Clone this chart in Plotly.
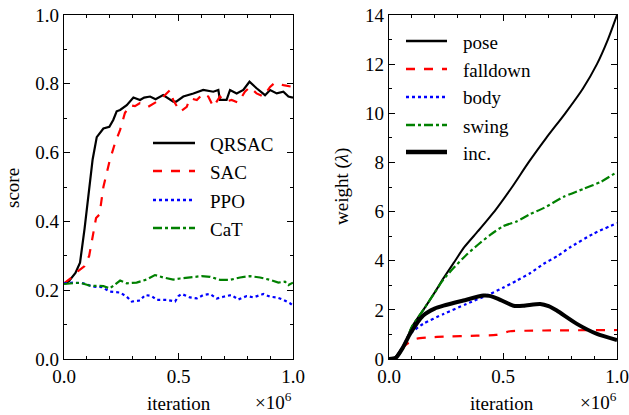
import plotly.graph_objects as go

# ---------- left panel data (iteration in units of 1e6) ----------
qrsac_x = [0.0, 0.02, 0.05, 0.07, 0.09, 0.11, 0.125, 0.143, 0.16, 0.172, 0.198, 0.215, 0.23, 0.245, 0.274,
           0.29, 0.303, 0.332, 0.35, 0.376, 0.40, 0.433, 0.45, 0.477, 0.49, 0.521, 0.565, 0.608, 0.652,
           0.674, 0.681, 0.71, 0.725, 0.754, 0.783, 0.81, 0.841, 0.878, 0.90, 0.929, 0.958, 0.98, 1.0]
qrsac_y = [0.22, 0.225, 0.25, 0.28, 0.38, 0.50, 0.58, 0.645, 0.66, 0.67, 0.675, 0.695, 0.72, 0.724, 0.738,
           0.75, 0.76, 0.753, 0.76, 0.763, 0.755, 0.767, 0.76, 0.748, 0.748, 0.763, 0.772, 0.782, 0.777,
           0.782, 0.753, 0.753, 0.782, 0.772, 0.782, 0.806, 0.787, 0.767, 0.782, 0.772, 0.777, 0.763, 0.76]

sac_x = [0.0, 0.03, 0.06, 0.09, 0.11, 0.125, 0.14, 0.155, 0.172, 0.20, 0.223, 0.245, 0.266, 0.288, 0.31,
         0.332, 0.367, 0.405, 0.43, 0.463, 0.477, 0.507, 0.536, 0.55, 0.58, 0.608, 0.63, 0.652, 0.681,
         0.703, 0.732, 0.761, 0.79, 0.812, 0.841, 0.87, 0.90, 0.921, 0.958, 1.0]
sac_y = [0.22, 0.235, 0.255, 0.27, 0.30, 0.35, 0.41, 0.42, 0.50, 0.578, 0.628, 0.666, 0.715, 0.738, 0.735,
         0.744, 0.733, 0.748, 0.76, 0.782, 0.753, 0.719, 0.733, 0.758, 0.753, 0.772, 0.763, 0.733, 0.763,
         0.748, 0.753, 0.745, 0.777, 0.791, 0.772, 0.763, 0.791, 0.803, 0.796, 0.791]

ppo_x = [0.0, 0.04, 0.084, 0.128, 0.165, 0.2, 0.245, 0.274, 0.296, 0.332, 0.354, 0.383, 0.405, 0.448, 0.485,
         0.5, 0.514, 0.55, 0.58, 0.608, 0.638, 0.667, 0.696, 0.732, 0.761, 0.798, 0.827, 0.87, 0.9, 0.929,
         0.958, 0.987, 1.0]
ppo_y = [0.22, 0.222, 0.22, 0.21, 0.209, 0.196, 0.193, 0.181, 0.167, 0.17, 0.186, 0.183, 0.172, 0.172, 0.167,
         0.183, 0.189, 0.179, 0.176, 0.186, 0.189, 0.176, 0.181, 0.186, 0.173, 0.183, 0.179, 0.189, 0.181,
         0.179, 0.172, 0.162, 0.155]

cat_x = [0.0, 0.07, 0.114, 0.172, 0.2, 0.245, 0.274, 0.317, 0.361, 0.397, 0.434, 0.477, 0.507, 0.55, 0.601,
         0.638, 0.681, 0.725, 0.769, 0.812, 0.856, 0.9, 0.936, 0.965, 0.98, 1.0]
cat_y = [0.218, 0.222, 0.213, 0.212, 0.205, 0.228, 0.22, 0.222, 0.231, 0.244, 0.237, 0.231, 0.234, 0.237,
         0.241, 0.239, 0.23, 0.23, 0.237, 0.241, 0.237, 0.23, 0.222, 0.225, 0.215, 0.222]

# ---------- right panel data ----------
pose_x = [0.0, 0.02, 0.05, 0.078, 0.1, 0.158, 0.2, 0.24, 0.283, 0.33, 0.39, 0.466, 0.54, 0.612, 0.69,
          0.773, 0.85, 0.912, 0.96, 1.0]
pose_y = [0.0, 0.0, 0.35, 0.8, 1.3, 2.1, 2.7, 3.3, 3.9, 4.55, 5.2, 6.05, 7.0, 8.0, 9.0,
          10.0, 11.0, 12.0, 13.0, 14.0]

fall_x = [0.0, 0.03, 0.06, 0.078, 0.12, 0.18, 0.239, 0.385, 0.47, 0.53, 0.6, 0.68, 1.0]
fall_y = [0.0, 0.05, 0.45, 0.61, 0.82, 0.88, 0.91, 0.95, 0.98, 1.13, 1.15, 1.16, 1.18]

body_x = [0.0, 0.03, 0.06, 0.092, 0.15, 0.239, 0.34, 0.444, 0.5, 0.56, 0.62, 0.678, 0.74, 0.795, 0.897, 1.0]
body_y = [0.0, 0.05, 0.5, 1.02, 1.43, 1.83, 2.24, 2.65, 2.9, 3.19, 3.5, 3.87, 4.2, 4.55, 5.1, 5.53]

swing_x = [0.0, 0.03, 0.06, 0.1, 0.158, 0.2, 0.24, 0.283, 0.341, 0.39, 0.444, 0.5, 0.56, 0.62, 0.68,
           0.766, 0.854, 0.927, 1.0]
swing_y = [0.0, 0.05, 0.4, 1.3, 2.1, 2.7, 3.25, 3.7, 4.25, 4.65, 5.05, 5.4, 5.6, 5.9, 6.15,
           6.6, 6.93, 7.2, 7.61]

inc_x = [0.0, 0.03, 0.06, 0.092, 0.15, 0.2, 0.239, 0.326, 0.414, 0.44, 0.473, 0.546, 0.59, 0.663, 0.7,
         0.736, 0.824, 0.912, 1.0]
inc_y = [0.0, 0.05, 0.45, 1.02, 1.77, 2.05, 2.17, 2.38, 2.58, 2.57, 2.47, 2.17, 2.17, 2.24, 2.15,
         1.97, 1.43, 1.02, 0.77]

W, H = 629, 415
FONT = "Times New Roman, Liberation Serif, DejaVu Serif, serif"

fig = go.Figure()

left = [("QRSAC", qrsac_x, qrsac_y, "black", "solid", 2.2),
        ("SAC", sac_x, sac_y, "red", "dash", 2.2),
        ("PPO", ppo_x, ppo_y, "blue", "dot", 2.2),
        ("CaT", cat_x, cat_y, "green", "dashdot", 2.2)]
right = [("pose", pose_x, pose_y, "black", "solid", 2.0),
         ("falldown", fall_x, fall_y, "red", "dash", 2.2),
         ("body", body_x, body_y, "blue", "dot", 2.2),
         ("swing", swing_x, swing_y, "green", "dashdot", 2.2),
         ("inc.", inc_x, inc_y, "black", "solid", 4.0)]

for name, x, y, c, d, w in left:
    fig.add_trace(go.Scatter(x=x, y=y, name=name, mode="lines", xaxis="x", yaxis="y",
                             line=dict(color=c, dash=d, width=w), showlegend=False))
for name, x, y, c, d, w in right:
    fig.add_trace(go.Scatter(x=x, y=y, name=name, mode="lines", xaxis="x2", yaxis="y2",
                             line=dict(color=c, dash=d, width=w, shape="spline", smoothing=0.6),
                             showlegend=False))

ann_font = dict(family=FONT, size=19, color="black")
shapes, annotations = [], []

# hand-drawn legends (long sample lines as in the reference)
def add_legend(series, x0, x1, xt, ys):
    for (name, _x, _y, c, d, w), yy in zip(series, ys):
        shapes.append(dict(type="line", xref="paper", yref="paper",
                           x0=x0 / W, x1=x1 / W, y0=1 - yy / H, y1=1 - yy / H,
                           line=dict(color=c, dash=d, width=w + 0.3)))
        annotations.append(dict(text=name, x=xt / W, y=1 - (yy + 1) / H, xref="paper", yref="paper",
                                xanchor="left", yanchor="middle", showarrow=False, font=ann_font))

add_legend(left, 153, 195, 208, [143, 171, 200, 228])
add_legend(right, 406, 447, 461, [41, 69, 97, 125, 152])

annotations += [
    dict(text="score", x=12 / W, y=1 - 188 / H, xref="paper", yref="paper",
         xanchor="center", yanchor="middle", textangle=-90, showarrow=False, font=ann_font),
    dict(text="weight (<i>λ</i>)", x=342 / W, y=1 - 187 / H, xref="paper", yref="paper",
         xanchor="center", yanchor="middle", textangle=-90, showarrow=False, font=ann_font),
    dict(text="iteration", x=179 / W, y=1 - 403 / H, xref="paper", yref="paper",
         xanchor="center", yanchor="middle", showarrow=False, font=ann_font),
    dict(text="×10<sup>6</sup>", x=294 / W, y=1 - 401 / H, xref="paper", yref="paper",
         xanchor="right", yanchor="middle", showarrow=False, font=ann_font),
    dict(text="iteration", x=502 / W, y=1 - 403 / H, xref="paper", yref="paper",
         xanchor="center", yanchor="middle", showarrow=False, font=ann_font),
    dict(text="×10<sup>6</sup>", x=619 / W, y=1 - 401 / H, xref="paper", yref="paper",
         xanchor="right", yanchor="middle", showarrow=False, font=ann_font),
]

minor_common = dict(ticks="inside", ticklen=3, tickcolor="black", tickwidth=1)
axis_common = dict(showline=True, linecolor="black", linewidth=1.2, mirror="allticks",
                   ticks="inside", ticklen=6, tickwidth=1.2, tickcolor="black",
                   showgrid=False, zeroline=False, automargin=False,
                   tickfont=dict(family=FONT, size=19, color="black"))

ybot, ytop = 1 - 359 / H, 1 - 15 / H
fig.update_layout(
    width=W, height=H,
    margin=dict(l=0, r=0, t=0, b=0, pad=0, autoexpand=False),
    paper_bgcolor="white", plot_bgcolor="white",
    font=dict(family=FONT, size=19, color="black"),
    showlegend=False,
    xaxis=dict(domain=[64 / W, 293 / W], range=[0, 1], tickvals=[0, 0.5, 1.0],
               ticktext=["0.0", "0.5", "1.0"], anchor="y",
               minor=dict(dtick=0.1, **minor_common), **axis_common),
    yaxis=dict(domain=[ybot, ytop], range=[0, 1], dtick=0.2, tickformat=".1f", anchor="x",
               minor=dict(dtick=0.1, **minor_common), **axis_common),
    xaxis2=dict(domain=[389 / W, 617 / W], range=[0, 1], tickvals=[0, 0.5, 1.0],
                ticktext=["0.0", "0.5", "1.0"], anchor="y2",
                minor=dict(dtick=0.1, **minor_common), **axis_common),
    yaxis2=dict(domain=[ybot, ytop], range=[0, 14], dtick=2, anchor="x2",
                minor=dict(dtick=1, **minor_common), **axis_common),
    shapes=shapes,
    annotations=annotations,
)

fig.write_html("out.html", config={"displayModeBar": False},
               post_script="document.body.style.margin='0';document.body.style.padding='0';"
                           "document.documentElement.style.overflow='hidden';")
